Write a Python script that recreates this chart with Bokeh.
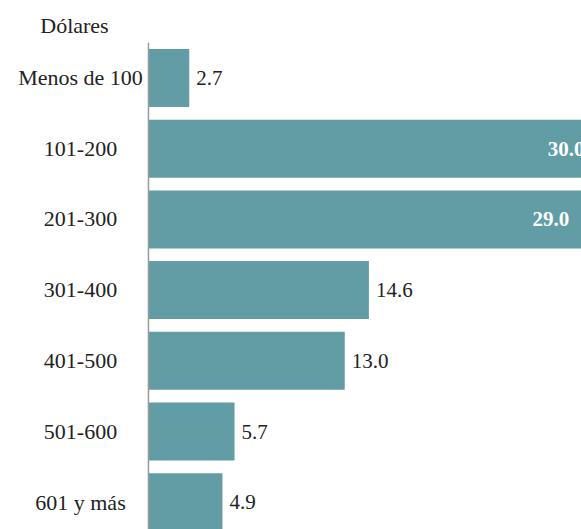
from bokeh.plotting import figure
from bokeh.models import Range1d, ColumnDataSource
from bokeh.core.properties import value
from bokeh.embed import file_html
from bokeh.resources import INLINE

categories = ["Menos de 100", "101-200", "201-300", "301-400", "401-500", "501-600", "601 y más"]
values = [2.7, 30.0, 29.0, 14.6, 13.0, 5.7, 4.9]
unit_label = "Dólares"

BAR = "#629da6"
TXT = "#222222"
FONT = "Liberation Serif"

idx = list(range(len(categories)))
labels = [f"{v:.1f}" for v in values]
inside = [v > 20 for v in values]

src = ColumnDataSource(dict(y=idx, v=values, cat=categories, lab=labels))
src_out = ColumnDataSource(dict(y=[i for i in idx if not inside[i]],
                                v=[values[i] for i in idx if not inside[i]],
                                lab=[labels[i] for i in idx if not inside[i]]))
src_in = ColumnDataSource(dict(y=[i for i in idx if inside[i]],
                               v=[values[i] for i in idx if inside[i]],
                               lab=[labels[i] for i in idx if inside[i]]))

y_top, y_bottom = -1.096, 6.386
p = figure(width=581, height=529, output_backend="svg", toolbar_location=None,
           x_range=Range1d(-9.80, 28.68), y_range=Range1d(y_bottom, y_top),
           min_border=0)
p.axis.visible = False
p.grid.visible = False
p.outline_line_color = None
p.background_fill_color = "white"
p.border_fill_color = "white"

p.hbar(y="y", right="v", left=0, height=0.82, source=src, color=BAR, line_color=None)

# vertical axis line from top of first band to bottom
p.segment(x0=[0], y0=[-0.5], x1=[0], y1=[y_bottom], line_color="#9a9a9a", line_width=1.5)

p.text(x=0, y="y", text="cat", source=src, x_offset=-68, text_align="center",
       text_baseline="middle", text_font=value(FONT), text_font_size="22px", text_color=TXT)
p.text(x="v", y="y", text="lab", source=src_out, x_offset=7, text_align="left",
       text_baseline="middle", text_font=value(FONT), text_font_size="21px", text_color=TXT)
p.text(x="v", y="y", text="lab", source=src_in, x_offset=-17, text_align="right",
       text_baseline="middle", text_font=value(FONT), text_font_size="21px",
       text_font_style="bold", text_color="white")

p.text(x=[0], y=[-0.5], text=[unit_label], x_offset=-74, y_offset=-17,
       text_align="center", text_baseline="middle",
       text_font=value(FONT), text_font_size="22px", text_color=TXT)

open("out.html", "w").write(file_html(p, INLINE))
